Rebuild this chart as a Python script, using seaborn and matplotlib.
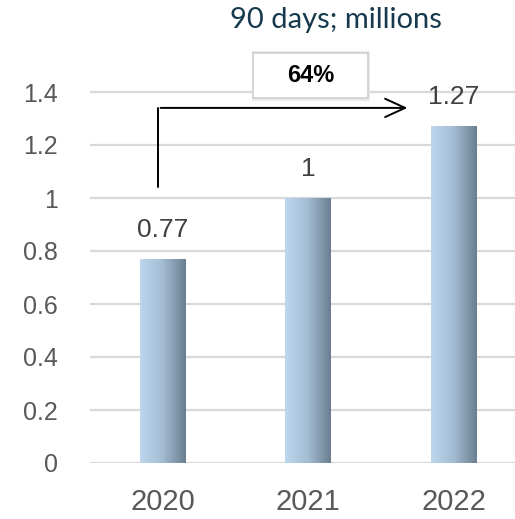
import numpy as np
import pandas as pd
import matplotlib
matplotlib.use("Agg")
import matplotlib.pyplot as plt
from matplotlib.colors import LinearSegmentedColormap
from matplotlib.patches import Rectangle
import seaborn as sns

years = ["2020", "2021", "2022"]
visits = [0.77, 1.00, 1.27]
growth_label = "64%"
title = "90 days; millions"
yticks = [0, 0.2, 0.4, 0.6, 0.8, 1.0, 1.2, 1.4]
ytick_labels = ["0", "0.2", "0.4", "0.6", "0.8", "1", "1.2", "1.4"]

sns.set_theme(style="white")
plt.rcParams["font.family"] = ["Liberation Sans", "DejaVu Sans"]

df = pd.DataFrame({"year": years, "value": visits})

fig = plt.figure(figsize=(5.15, 5.19), dpi=100)
ax = fig.add_axes([90 / 515, 56 / 519, 425 / 515, 424 / 519])

sns.barplot(data=df, x="year", y="value", ax=ax, width=0.316,
            color="#9fb8d0", saturation=1)

ax.set_xlim(-0.5, 2.42)
ax.set_ylim(0, 1.6)
ax.set_yticks(yticks)
ax.set_yticklabels(ytick_labels)
ax.set_xlabel("")
ax.set_ylabel("")
for s in ax.spines.values():
    s.set_visible(False)
ax.grid(False)
for t in yticks:
    ax.axhline(t, color="#d9d9d9", lw=1.6, zorder=0)

ax.tick_params(axis="y", length=0, pad=23, labelsize=18, labelcolor="#595959")
ax.tick_params(axis="x", length=0, pad=18, labelsize=21, labelcolor="#595959")

# horizontal gradient fill for each bar
grad_cmap = LinearSegmentedColormap.from_list("bar", ["#bdd7ee", "#a3bcd3", "#6a7e90"])
grad = np.linspace(0, 1, 256).reshape(1, -1)
for patch in ax.patches:
    x0, y0 = patch.get_x(), patch.get_y()
    w, h = patch.get_width(), patch.get_height()
    im = ax.imshow(grad, cmap=grad_cmap, aspect="auto",
                   extent=[x0, x0 + w, y0, y0 + h], zorder=2)
    im.set_clip_path(patch)
    patch.set_facecolor("none")
    patch.set_edgecolor("none")
ax.set_xlim(-0.5, 2.42)
ax.set_ylim(0, 1.6)

# value labels above bars
for i, v in enumerate(visits):
    ax.annotate(f"{v:g}", xy=(i, v), xytext=(0, 21), textcoords="offset points",
                ha="center", va="center", fontsize=19, color="#404040")

# growth arrow from the first bar to the last
ax.plot([-0.03, -0.03], [1.04, 1.34], color="black", lw=1.4, zorder=3)
ax.annotate("", xy=(1.70, 1.34), xytext=(-0.03 - 0.004, 1.34),
            arrowprops=dict(arrowstyle="->,head_length=1.2,head_width=0.55",
                            color="black", lw=1.4), zorder=3)

# growth rate box with a soft shadow
bx0, bx1, by0, by1 = 0.619, 1.409, 1.377, 1.547
ax.add_patch(Rectangle((bx0 - 0.008, by0 - 0.01), bx1 - bx0 + 0.022, by1 - by0 + 0.016,
                       facecolor="#ebebeb", edgecolor="none", zorder=4, clip_on=False))
ax.add_patch(Rectangle((bx0, by0), bx1 - bx0, by1 - by0, facecolor="white",
                       edgecolor="#cfcfcf", lw=1.2, zorder=5, clip_on=False))
ax.text((bx0 + bx1) / 2, (by0 + by1) / 2, growth_label, ha="center", va="center",
        fontsize=17, fontweight="bold", color="black", zorder=6)

fig.text(336 / 515, 1 - 20 / 519, title, ha="center", va="center",
         fontsize=21, color="#17394d", family=["Lato", "DejaVu Sans"])

fig.savefig("out.png", dpi=100)
